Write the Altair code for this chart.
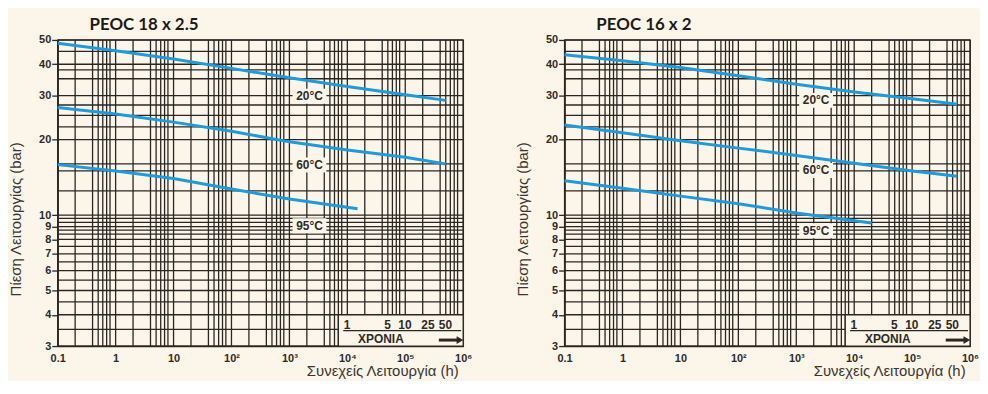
import altair as alt
import pandas as pd

BG = "#FCF6EA"
INK = "#2B2622"
BLUE = "#1F9BD9"
TXT = "#2E2A27"

# ---------------- axes ----------------
hour_ticks = [0.1, 1, 10, 100, 1000, 10000, 100000, 1000000]
hour_tick_text = ["0.1", "1", "10", "10²", "10³", "10⁴", "10⁵", "10⁶"]
bar_ticks = [3, 4, 5, 6, 7, 8, 9, 10, 20, 30, 40, 50]

# ---------------- grid ----------------
decades = [0.1, 1, 10, 100, 1000, 10000, 100000]
grid_steps = [1, 2, 4, 5, 6, 7, 8]
x_grid = [round(d * s, 6) for d in decades for s in grid_steps] + [1000000]
y_grid = [3, 3.5, 4, 4.5, 5, 5.5, 6, 6.5, 7, 7.5, 8, 8.4, 8.7, 9, 9.35, 9.7,
          10, 12.5, 15, 16, 20, 22.5, 25, 27.5, 30, 35, 38, 40, 45, 50]

# ---------------- series: PEOC 18 x 2.5 ----------------
left_hours = [0.1, 1, 10, 100, 1000, 10000, 100000, 500000]
left_20 = [48.5, 45.3, 42.0, 38.5, 35.3, 32.6, 30.2, 28.7]
left_60 = [26.9, 25.3, 23.5, 21.6, 19.6, 18.2, 17.0, 16.0]
left_95_hours = [0.1, 1, 10, 100, 1000, 15000]
left_95 = [15.9, 15.0, 14.0, 12.7, 11.6, 10.6]

# ---------------- series: PEOC 16 x 2 ----------------
right_hours = [0.1, 1, 10, 100, 1000, 10000, 100000, 600000]
right_20 = [43.6, 41.3, 38.8, 36.0, 33.3, 31.0, 29.1, 27.7]
right_60 = [22.9, 21.3, 19.8, 18.5, 17.3, 16.1, 15.0, 14.3]
right_95_hours = [0.1, 1, 10, 100, 1000, 10000, 20000]
right_95 = [13.7, 12.8, 11.9, 11.1, 10.2, 9.5, 9.3]

temps = ["20°C", "60°C", "95°C"]
left_label_h = [2220, 2220, 2220]
left_label_bar = [29.8, 15.85, 9.07]
right_label_h = [2200, 2200, 2200]
right_label_bar = [28.7, 15.06, 8.66]

# ---------------- years inset ----------------
years = [1, 5, 10, 25, 50]
hours_per_year = 8760
years_text = ["1", "5", "10", "25", "50"]
inset_box_h = [7000, 1000000]
inset_box_bar = [3, 4]
years_row_bar = 3.65
underline_h = [8500, 920000]
underline_bar = 3.46
xronia_h = 38000
xronia_bar = 3.2
arrow_h = [380000, 880000]
arrow_bar = 3.17

W = 408
H = 308

XS = alt.Scale(type="log", domain=[0.1, 1000000], nice=False)
YS = alt.Scale(type="log", domain=[3, 50], nice=False)

label_expr = f"{hour_tick_text}[indexof({hour_ticks}, datum.value)]"
SANS = "Liberation Sans, Arial, sans-serif"

XAX = alt.Axis(values=hour_ticks, labelExpr=label_expr, grid=False, ticks=False,
               domain=True, domainColor=INK, domainWidth=1.3,
               labelFont=SANS, labelFontSize=11, labelFontWeight="bold",
               labelColor=TXT, labelPadding=7, labelFlush=False, labelOverlap=False,
               title="Συνεχείς Λειτουργία (h)", titleX=W - 5, titleY=25,
               titleAlign="right", titleBaseline="middle",
               titleFont=SANS, titleFontSize=15, titleFontWeight="normal", titleColor="#3A3530")
YAX = alt.Axis(values=bar_ticks, format="d", grid=False, ticks=True, tickSize=6,
               tickColor=INK, tickWidth=1.3, domain=True, domainColor=INK, domainWidth=1.3,
               labelFont=SANS, labelFontSize=11, labelFontWeight="bold",
               labelColor=TXT, labelPadding=1, labelFlush=False, labelOverlap=False,
               title="Πίεση Λειτουργίας (bar)", titleX=-42, titleY=180, titleAngle=270,
               titleAlign="center", titleBaseline="middle",
               titleFont=SANS, titleFontSize=15, titleFontWeight="normal", titleColor="#3A3530")


def X(field="h"):
    return alt.X(f"{field}:Q", scale=XS, axis=XAX)


def Y(field="bar"):
    return alt.Y(f"{field}:Q", scale=YS, axis=YAX)


def panel(title, series, label_h, label_bar):
    xg = alt.Chart(pd.DataFrame({"h": x_grid})).mark_rule(color=INK, strokeWidth=1.3).encode(x=X())
    yg = alt.Chart(pd.DataFrame({"bar": y_grid})).mark_rule(color=INK, strokeWidth=1.3).encode(y=Y())

    box = alt.Chart(pd.DataFrame({"h": [inset_box_h[0]], "h2": [inset_box_h[1]],
                                  "bar": [inset_box_bar[0]], "bar2": [inset_box_bar[1]]})).mark_rect(
        fill=BG, stroke=INK, strokeWidth=1.3).encode(x=X(), x2="h2:Q", y=Y(), y2="bar2:Q")

    yr = alt.Chart(pd.DataFrame({"h": [y * hours_per_year for y in years],
                                 "bar": [years_row_bar] * len(years),
                                 "t": years_text})).mark_text(
        font=SANS, fontSize=12, fontWeight="bold",
        color=TXT, dx=3, baseline="middle").encode(x=X(), y=Y(), text="t:N")

    ul = alt.Chart(pd.DataFrame({"h": [underline_h[0]], "h2": [underline_h[1]],
                                 "bar": [underline_bar]})).mark_rule(
        color=INK, strokeWidth=1.3).encode(x=X(), x2="h2:Q", y=Y())

    xr = alt.Chart(pd.DataFrame({"h": [xronia_h], "bar": [xronia_bar], "t": ["XPONIA"]})).mark_text(
        font=SANS, fontSize=12, fontWeight="bold",
        color=TXT, baseline="middle").encode(x=X(), y=Y(), text="t:N")

    ar = alt.Chart(pd.DataFrame({"h": [arrow_h[0]], "h2": [arrow_h[1]],
                                 "bar": [arrow_bar]})).mark_rule(
        color=INK, strokeWidth=3).encode(x=X(), x2="h2:Q", y=Y())
    head = alt.Chart(pd.DataFrame({"h": [arrow_h[1]], "bar": [arrow_bar]})).mark_point(
        shape="triangle-right", filled=True, color=INK, size=60, opacity=1).encode(x=X(), y=Y())

    rows = []
    for temp, (hs, ps) in zip(temps, series):
        for h, p in zip(hs, ps):
            rows.append({"temp": temp, "h": h, "bar": p})
    lines = alt.Chart(pd.DataFrame(rows)).mark_line(
        color=BLUE, strokeWidth=3, strokeCap="butt").encode(x=X(), y=Y(), detail="temp:N")

    lab_df = pd.DataFrame({"h": label_h, "bar": label_bar, "t": temps})
    lab_bg = alt.Chart(lab_df).mark_point(
        shape="M-1.7,-0.75L1.7,-0.75L1.7,0.75L-1.7,0.75Z", filled=True, color=BG,
        size=400, opacity=1, strokeOpacity=0).encode(x=X(), y=Y())
    lab = alt.Chart(lab_df).mark_text(
        font=SANS, fontSize=12, fontWeight="bold",
        color=TXT, baseline="middle").encode(x=X(), y=Y(), text="t:N")

    return alt.layer(xg, yg, box, yr, ul, xr, ar, head, lines, lab_bg, lab).properties(
        width=W, height=H,
        title=alt.TitleParams(title, anchor="start", frame="group", dx=32,
                              font="Lato, Open Sans, sans-serif", fontSize=17,
                              fontWeight="bold", color="#1E1A17", offset=0))


left = panel("PEOC 18 x  2.5",
             [(left_hours, left_20), (left_hours, left_60), (left_95_hours, left_95)],
             left_label_h, left_label_bar)
right = panel("PEOC 16 x  2",
              [(right_hours, right_20), (right_hours, right_60), (right_95_hours, right_95)],
              right_label_h, right_label_bar)

chart = alt.hconcat(left, right, spacing=42).properties(
    padding={"left": 0, "top": 6, "right": 0, "bottom": 0}
).configure(background=BG).configure_view(stroke=INK, strokeWidth=1.3)

chart.save("out.html", embed_options={"renderer": "svg", "actions": False})
